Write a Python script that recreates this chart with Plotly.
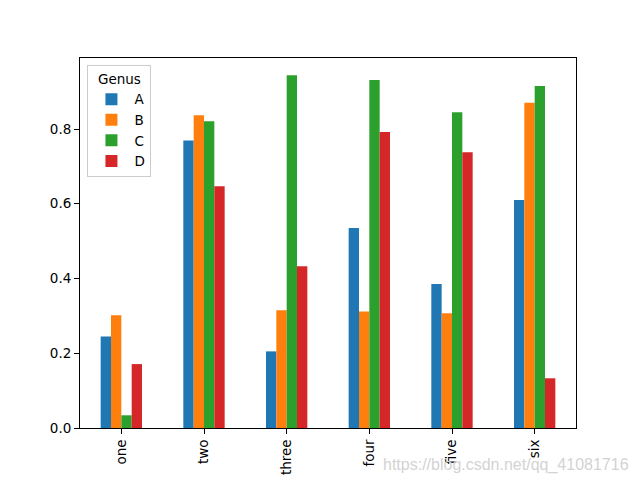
import plotly.graph_objects as go

categories = ["one", "two", "three", "four", "five", "six"]
series_names = ["A", "B", "C", "D"]
A = [0.245, 0.769, 0.205, 0.535, 0.385, 0.610]
B = [0.302, 0.837, 0.315, 0.312, 0.307, 0.870]
C = [0.034, 0.821, 0.944, 0.931, 0.845, 0.915]
D = [0.171, 0.647, 0.433, 0.792, 0.738, 0.133]
colors = ["#1f77b4", "#ff7f0e", "#2ca02c", "#d62728"]
y_ticks = [0.0, 0.2, 0.4, 0.6, 0.8]

fig = go.Figure()
for name, vals, col in zip(series_names, [A, B, C, D], colors):
    fig.add_trace(go.Bar(x=categories, y=vals, name=name,
                         marker=dict(color=col, line=dict(width=0))))

font = "DejaVu Sans"
fig.update_layout(
    width=632, height=472,
    paper_bgcolor="white", plot_bgcolor="white",
    margin=dict(l=72, r=64, t=50, b=52, autoexpand=False),
    barmode="group", bargap=0.5, bargroupgap=0,
    font=dict(family=font, size=13.5, color="black"),
    showlegend=True,
    legend=dict(
        title=dict(text="Genus", side="top center", font=dict(size=13.5)),
        x=0.015, y=0.98, xanchor="left", yanchor="top",
        bgcolor="rgba(255,255,255,0.8)", bordercolor="#cccccc", borderwidth=1,
        font=dict(size=13.5), itemsizing="constant", itemwidth=36,
        tracegroupgap=2,
    ),
    xaxis=dict(
        type="category", range=[-0.5, 5.5], tickangle=-90,
        showline=True, linecolor="black", linewidth=1, mirror=True,
        ticks="outside", ticklen=5, tickcolor="black", showgrid=False,
        tickfont=dict(size=13.5),
    ),
    yaxis=dict(
        range=[0, 0.99], tickvals=y_ticks, tickformat=".1f",
        showline=True, linecolor="black", linewidth=1, mirror=True,
        ticks="outside", ticklen=5, tickcolor="black", showgrid=False,
        zeroline=False, tickfont=dict(size=13.5),
    ),
    annotations=[dict(
        text="https://blog.csdn.net/qq_41081716", xref="paper", yref="paper",
        x=1.11, y=-0.1, xanchor="right", yanchor="middle", showarrow=False,
        font=dict(family="Liberation Sans", size=16, color="#d3d3d3"),
    )],
)

fig.write_html("out.html")
